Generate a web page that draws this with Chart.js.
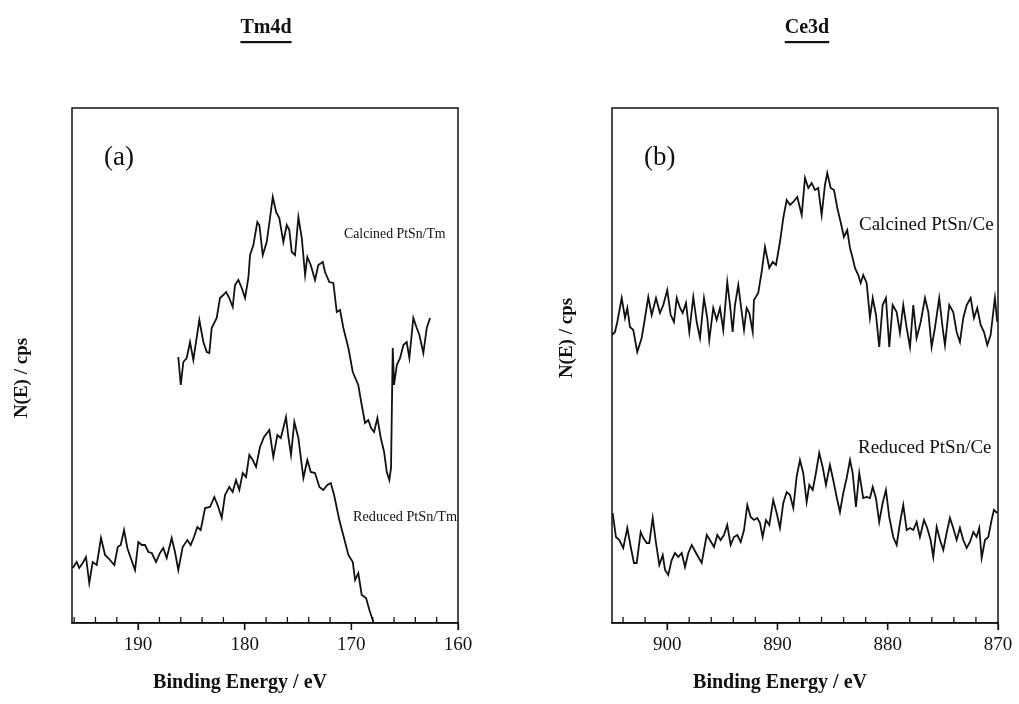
<!DOCTYPE html>
<html><head><meta charset="utf-8">
<script src="https://cdn.jsdelivr.net/npm/chart.js@4.4.1/dist/chart.umd.min.js"></script>
<style>
html,body{margin:0;padding:0;background:#fff;}
#wrap{position:relative;width:1019px;height:704px;background:#fff;}
canvas{position:absolute;top:0;}
#cA{left:0;} #cB{left:540px;}
</style></head><body>
<div id="wrap"><canvas id="cA" width="540" height="704"></canvas><canvas id="cB" width="479" height="704"></canvas></div>
<script>
// ---- Tm4d panel (a) ----
const tmTickValues = [160,162,164,166,168,170,172,174,176,178,180,182,184,186,188,190,192,194,196];
const tmTickLabels = [160,170,180,190];
const tmCalcinedE = [186.23,186.00,185.76,185.44,185.13,184.82,184.26,183.88,183.56,183.32,183.10,182.63,182.32,182.01,181.75,181.45,181.13,180.91,180.60,180.28,179.97,179.66,179.50,179.19,178.82,178.63,178.31,177.94,177.63,177.37,177.06,176.76,176.38,176.06,175.82,175.59,175.28,174.97,174.65,174.34,174.13,173.81,173.41,173.10,172.68,172.47,172.07,171.69,171.37,171.06,170.75,170.28,169.87,169.35,169.03,168.72,168.41,168.15,167.87,167.56,167.24,166.93,166.68,166.44,166.28,166.12,166.00,165.74,165.43,165.12,164.81,164.56,164.19,163.87,163.62,163.25,162.93,162.62];
const tmCalcinedN = [266,238,261,265,281,263,303,281,271,270,295,305,325,328,331,325,316,338,343,335,325,345,368,378,401,398,368,381,405,426,411,405,381,398,393,371,368,406,385,348,366,358,343,358,361,351,341,340,311,313,295,275,251,238,218,200,203,195,191,205,185,171,151,143,155,275,238,258,265,278,281,265,305,295,288,270,295,305];
const tmReducedE = [196.13,195.76,195.52,195.20,194.89,194.58,194.26,193.88,193.48,193.10,192.80,192.23,191.91,191.63,191.32,191.01,190.69,190.29,189.98,189.66,189.35,189.04,188.72,188.32,187.95,187.64,187.32,186.85,186.54,186.23,185.82,185.38,185.07,184.76,184.45,184.13,183.72,183.26,182.85,182.48,182.16,181.85,181.45,181.13,180.82,180.51,180.19,179.88,179.57,179.25,178.94,178.57,178.19,177.69,177.32,176.94,176.62,176.38,176.13,175.91,175.66,175.35,174.97,174.50,174.13,173.81,173.41,173.00,172.63,172.25,171.93,171.62,171.13,170.69,170.28,169.87,169.65,169.35,169.03,168.62,168.31,167.94];
const tmReducedN = [55,61,55,60,66,40,61,58,85,68,65,58,76,78,93,75,65,53,81,78,78,71,70,61,70,75,65,85,71,53,76,83,78,86,96,93,115,116,126,116,105,128,136,131,143,133,150,146,168,163,156,176,186,193,166,188,185,195,206,186,168,201,185,145,163,151,150,136,133,138,140,128,103,85,68,61,43,50,28,25,13,1];

// ---- Ce3d panel (b) ----
const ceTickValues = [870,872,874,876,878,880,882,884,886,888,890,892,894,896,898,900,902,904];
const ceTickLabels = [870,880,890,900];
const ceCalcinedE = [905.00,904.73,904.52,904.12,903.82,903.61,903.37,903.07,902.71,902.31,902.01,901.71,901.40,901.01,900.65,900.35,899.99,899.68,899.38,899.13,898.83,898.59,898.29,897.99,897.63,897.32,897.02,896.66,896.36,896.18,895.82,895.51,895.21,894.91,894.55,894.30,894.06,893.85,893.55,893.24,893.03,892.79,892.55,892.24,892.13,891.74,891.43,891.13,890.74,890.43,890.13,889.77,889.47,889.16,888.86,888.56,888.20,887.80,887.50,887.20,886.89,886.60,886.30,885.99,885.69,885.48,885.17,884.87,884.57,884.27,883.97,883.67,883.42,883.18,882.97,882.67,882.45,882.22,881.91,881.61,881.36,881.06,880.77,880.46,880.16,879.86,879.55,879.19,878.89,878.59,878.28,877.98,877.68,877.38,877.01,876.62,876.32,876.02,875.72,875.33,875.02,874.81,874.42,874.06,873.75,873.45,873.15,872.84,872.48,872.18,871.88,871.57,871.27,870.97,870.67,870.43,870.28,870.07];
const ceCalcinedN = [288,291,301,325,305,315,296,293,271,285,305,326,308,325,310,318,333,308,301,325,315,310,320,291,326,301,285,325,305,283,315,303,315,293,341,318,291,318,338,311,293,315,310,291,323,330,351,376,355,361,358,381,405,423,418,421,426,408,445,435,440,433,435,408,438,450,435,433,415,401,386,393,375,365,355,348,340,348,340,305,325,308,276,318,325,276,318,311,290,318,295,276,318,285,301,325,311,276,295,325,295,278,318,311,291,281,305,318,325,305,315,298,291,278,288,311,325,301];
const ceReducedE = [904.94,904.64,904.34,903.98,903.61,903.30,903.01,902.76,902.40,902.16,901.85,901.62,901.31,901.01,900.71,900.40,900.19,899.90,899.59,899.29,898.99,898.68,898.38,898.08,897.77,897.38,896.87,896.41,896.12,895.75,895.45,895.15,894.85,894.55,894.24,893.94,893.64,893.33,893.03,892.73,892.43,892.13,891.83,891.58,891.34,891.04,890.74,890.38,890.07,889.77,889.47,889.16,888.86,888.56,888.26,887.96,887.66,887.35,887.11,886.80,886.51,886.21,885.90,885.60,885.24,884.94,884.63,884.33,884.03,883.72,883.42,883.18,882.88,882.58,882.22,881.91,881.61,881.36,881.07,880.77,880.46,880.16,879.86,879.50,879.19,878.89,878.59,878.28,877.98,877.68,877.38,877.08,876.71,876.42,876.11,875.87,875.56,875.26,874.96,874.66,874.36,874.06,873.75,873.45,873.15,872.84,872.54,872.24,871.94,871.70,871.48,871.18,870.88,870.58,870.37,870.07];
const ceReducedN = [110,86,83,75,95,76,60,60,91,85,80,80,105,80,58,68,53,48,63,70,66,70,56,70,78,70,60,88,83,76,88,83,88,98,78,86,88,81,93,118,106,103,105,100,86,103,98,123,110,95,120,131,128,115,146,163,150,121,138,133,150,170,156,138,158,143,126,111,130,145,163,150,116,150,125,126,125,136,125,101,120,133,106,86,78,100,118,93,95,93,101,86,103,95,83,66,96,83,73,90,105,95,83,95,83,75,81,91,86,95,65,83,86,103,113,110];

const SERIF = '"Liberation Serif", "Times New Roman", serif';

const decor = {
  id: 'decor',
  afterDraw(chart, args, o) {
    const {ctx, chartArea: a, scales: {x}} = chart;
    ctx.save();
    ctx.strokeStyle = '#111';
    ctx.lineWidth = 1.5;
    ctx.strokeRect(a.left, a.top, a.right - a.left, a.bottom - a.top);
    // tick marks: minor point inward, major point outward
    ctx.lineWidth = 1.3;
    x.ticks.forEach(t => {
      const px = x.getPixelForValue(t.value);
      const major = o.majors.includes(t.value);
      ctx.beginPath();
      ctx.moveTo(px, a.bottom);
      ctx.lineTo(px, major ? a.bottom + 7 : a.bottom - 6);
      ctx.stroke();
    });
    ctx.fillStyle = '#111';
    o.items.forEach(it => {
      ctx.save();
      if (it.clip) { ctx.beginPath(); ctx.rect(a.left, a.top, a.right - a.left, a.bottom - a.top); ctx.clip(); }
      ctx.font = it.font;
      ctx.textAlign = it.align || 'center';
      ctx.textBaseline = 'middle';
      ctx.translate(it.x, it.y);
      if (it.rotate) ctx.rotate(it.rotate);
      if (it.sx) ctx.scale(it.sx, 1);
      ctx.fillText(it.text, 0, 0);
      if (it.underline) {
        const w = ctx.measureText(it.text).width;
        ctx.fillRect(-w / 2, 13, w, 2.2);
      }
      ctx.restore();
    });
    ctx.restore();
  }
};

function buildChart(id, cfg) {
  const ds = cfg.series.map(s => ({
    data: s.E.map((e, i) => ({x: e, y: s.N[i]})),
    borderColor: '#111', borderWidth: 1.8, pointRadius: 0, tension: 0, fill: false
  }));
  return new Chart(document.getElementById(id), {
    type: 'line',
    data: {datasets: ds},
    options: {
      responsive: false, animation: false, events: [],
      layout: {padding: {left: 72, right: cfg.padRight, top: 108, bottom: 0}},
      plugins: {legend: {display: false}, tooltip: {enabled: false}, decor: {majors: cfg.labels, items: cfg.items}},
      scales: {
        x: {
          type: 'linear', reverse: true, min: cfg.xmin, max: cfg.xmax,
          afterFit: s => { s.height = 81; },
          afterBuildTicks: s => { s.ticks = cfg.ticks.map(v => ({value: v})); },
          ticks: {
            autoSkip: false, maxRotation: 0, minRotation: 0, color: '#111', padding: 4,
            font: {family: SERIF, size: 19},
            callback: v => cfg.labels.includes(v) ? String(v) : ''
          },
          grid: {display: true, drawOnChartArea: false, drawTicks: true, tickLength: 7, tickWidth: 1.3,
                 tickColor: c => (c.tick && cfg.labels.includes(c.tick.value)) ? '#111' : 'rgba(0,0,0,0)'},
          border: {display: true, color: '#111', width: 1.5}
        },
        y: {display: false, min: 0, max: 515}
      }
    },
    plugins: [decor]
  });
}

buildChart('cA', {
  xmin: 160, xmax: 196.2, padRight: 82, ticks: tmTickValues, labels: tmTickLabels,
  series: [{E: tmCalcinedE, N: tmCalcinedN}, {E: tmReducedE, N: tmReducedN}],
  items: [
    {text: 'Tm4d', x: 266, y: 28, font: 'bold 20px ' + SERIF, underline: true},
    {text: '(a)', x: 104, y: 158, font: '27px ' + SERIF, align: 'left'},
    {text: 'N(E) / cps', x: 22, y: 378, font: 'bold 19px ' + SERIF, rotate: -Math.PI / 2},
    {text: 'Binding Energy / eV', x: 240, y: 683, font: 'bold 20px ' + SERIF},
    {text: 'Calcined PtSn/Tm', x: 344, y: 234, font: '15px ' + SERIF, align: 'left', sx: 0.92},
    {text: 'Reduced PtSn/Tm', x: 353, y: 517, font: '15px ' + SERIF, align: 'left', sx: 0.95}
  ]
});

buildChart('cB', {
  xmin: 870, xmax: 905, padRight: 21, ticks: ceTickValues, labels: ceTickLabels,
  series: [{E: ceCalcinedE, N: ceCalcinedN}, {E: ceReducedE, N: ceReducedN}],
  items: [
    {text: 'Ce3d', x: 267, y: 28, font: 'bold 20px ' + SERIF, underline: true},
    {text: '(b)', x: 104, y: 158, font: '27px ' + SERIF, align: 'left'},
    {text: 'N(E) / cps', x: 27, y: 338, font: 'bold 19px ' + SERIF, rotate: -Math.PI / 2},
    {text: 'Binding Energy / eV', x: 240, y: 683, font: 'bold 20px ' + SERIF},
    {text: 'Calcined PtSn/Ce', x: 319, y: 225, font: '19px ' + SERIF, align: 'left', clip: true},
    {text: 'Reduced PtSn/Ce', x: 318, y: 448, font: '19px ' + SERIF, align: 'left', clip: true}
  ]
});
</script>
</body></html>
